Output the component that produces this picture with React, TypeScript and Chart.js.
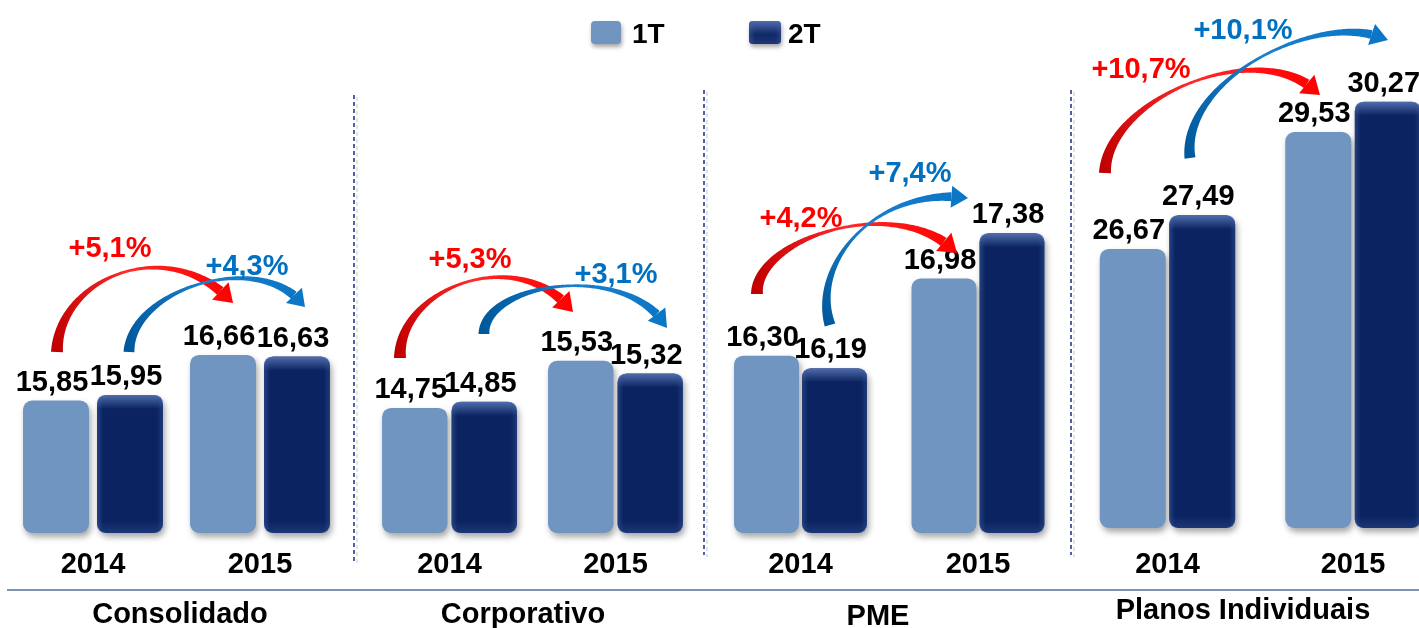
import React, { useEffect, useRef } from 'react';
import { Chart, registerables } from 'chart.js';

Chart.register(...registerables);

// ---------- data ----------
const years = ['2014', '2015'];
const segments = ['Consolidado', 'Corporativo', 'PME', 'Planos Individuais'];
const legendLabels = ['1T', '2T'];
const consolidado1T = [15.85, 16.66];
const consolidado2T = [15.95, 16.63];
const corporativo1T = [14.75, 15.53];
const corporativo2T = [14.85, 15.32];
const pme1T = [16.3, 16.98];
const pme2T = [16.19, 17.38];
const planos1T = [26.67, 29.53];
const planos2T = [27.49, 30.27];
const growth1T = ['+5,1%', '+5,3%', '+4,2%', '+10,7%'];
const growth2T = ['+4,3%', '+3,1%', '+7,4%', '+10,1%'];

const series1T = [consolidado1T, corporativo1T, pme1T, planos1T];
const series2T = [consolidado2T, corporativo2T, pme2T, planos2T];

// ---------- layout / style ----------
const W = 1450;
const H = 628;
const FONT = '"Liberation Sans", Arial, Helvetica, sans-serif';
const LIGHT = '#7195C1';
const DARK = '#0B2461';
const RED_TXT = '#FF0000';
const BLUE_TXT = '#0070C0';

type Pt = [number, number];
interface ArrowSpec { p0: Pt; c1: Pt; c2: Pt; p3: Pt; red: boolean; w0: number; wMid: number; w1: number; headW: number; headL: number; }
interface PanelSpec {
  left: number; right: number; bottom: number; yMin: number; yMax: number; cat: number; bar: number;
  sep: [number, number, number] | null; titleX: number; titleY: number;
  g1: Pt; g2: Pt; arrows: ArrowSpec[];
}

const RA = { red: true, w0: 12, wMid: 2.5, w1: 10, headW: 24, headL: 17 };
const BA = { red: false, w0: 11, wMid: 2.5, w1: 9, headW: 22, headL: 16 };

const panels: PanelSpec[] = [
  {
    left: 9.5, right: 343.5, bottom: 533, yMin: 13.497, yMax: 22.964, cat: 0.886, bar: 0.892,
    sep: [354, 95, 563], titleX: 180, titleY: 623, g1: [110, 247], g2: [247, 265],
    arrows: [
      { p0: [57, 352], c1: [58, 278], c2: [168, 232], p3: [233, 303], ...RA },
      { p0: [129, 352], c1: [131, 288], c2: [262, 248], p3: [305, 307], ...BA },
    ],
  },
  {
    left: 366.5, right: 698.5, bottom: 533, yMin: 12.675, yMax: 21.514, cat: 0.837, bar: 0.942,
    sep: [704, 90, 555], titleX: 523, titleY: 623, g1: [470, 258], g2: [616, 273],
    arrows: [
      { p0: [400, 358], c1: [398, 288], c2: [518, 242], p3: [573, 312], ...RA },
      { p0: [484, 334], c1: [483, 283], c2: [628, 260], p3: [667, 328], ...BA },
    ],
  },
  {
    left: 711.75, right: 1066.75, bottom: 533, yMin: 14.735, yMax: 19.439, cat: 0.766, bar: 0.956,
    sep: [1071, 90, 555], titleX: 878, titleY: 625, g1: [801, 217], g2: [910, 172],
    arrows: [
      { p0: [757, 294], c1: [755, 238], c2: [898, 192], p3: [957, 253], ...RA },
      { p0: [830, 325], c1: [810, 262], c2: [878, 186], p3: [968, 198], ...BA },
    ],
  },
  {
    left: 1074.75, right: 1445.75, bottom: 528, yMin: 19.84, yMax: 32.76, cat: 0.749, bar: 0.95,
    sep: null, titleX: 1243, titleY: 619, g1: [1141, 68], g2: [1243, 29],
    arrows: [
      { p0: [1105, 173], c1: [1106, 98], c2: [1262, 33], p3: [1320, 95], ...RA },
      { p0: [1190, 158], c1: [1180, 80], c2: [1320, 8], p3: [1388, 40], ...BA },
    ],
  },
];

const fmt = (v: number) => v.toFixed(2).replace('.', ',');

function roundRectPath(ctx: CanvasRenderingContext2D, x: number, y: number, w: number, h: number, r: number) {
  const rr = Math.min(r, w / 2, h / 2);
  ctx.beginPath();
  ctx.moveTo(x + rr, y);
  ctx.lineTo(x + w - rr, y);
  ctx.quadraticCurveTo(x + w, y, x + w, y + rr);
  ctx.lineTo(x + w, y + h - rr);
  ctx.quadraticCurveTo(x + w, y + h, x + w - rr, y + h);
  ctx.lineTo(x + rr, y + h);
  ctx.quadraticCurveTo(x, y + h, x, y + h - rr);
  ctx.lineTo(x, y + rr);
  ctx.quadraticCurveTo(x, y, x + rr, y);
  ctx.closePath();
}

function bevel(ctx: CanvasRenderingContext2D, x: number, y: number, w: number, h: number, r: number) {
  ctx.save();
  roundRectPath(ctx, x, y, w, h, r);
  ctx.clip();
  let g = ctx.createLinearGradient(0, y, 0, y + 14);
  g.addColorStop(0, 'rgba(110,140,205,0.7)');
  g.addColorStop(1, 'rgba(110,140,205,0)');
  ctx.fillStyle = g;
  ctx.fillRect(x, y, w, 14);
  g = ctx.createLinearGradient(0, y + h - 12, 0, y + h);
  g.addColorStop(0, 'rgba(60,90,160,0)');
  g.addColorStop(1, 'rgba(60,90,160,0.35)');
  ctx.fillStyle = g;
  ctx.fillRect(x, y + h - 12, w, 12);
  g = ctx.createLinearGradient(x, 0, x + 6, 0);
  g.addColorStop(0, 'rgba(70,100,170,0.45)');
  g.addColorStop(1, 'rgba(70,100,170,0)');
  ctx.fillStyle = g;
  ctx.fillRect(x, y, 6, h);
  g = ctx.createLinearGradient(x + w, 0, x + w - 6, 0);
  g.addColorStop(0, 'rgba(70,100,170,0.35)');
  g.addColorStop(1, 'rgba(70,100,170,0)');
  ctx.fillStyle = g;
  ctx.fillRect(x + w - 6, y, 6, h);
  ctx.restore();
}

function bez(a: ArrowSpec, t: number): Pt {
  const u = 1 - t;
  const x = u * u * u * a.p0[0] + 3 * u * u * t * a.c1[0] + 3 * u * t * t * a.c2[0] + t * t * t * a.p3[0];
  const y = u * u * u * a.p0[1] + 3 * u * u * t * a.c1[1] + 3 * u * t * t * a.c2[1] + t * t * t * a.p3[1];
  return [x, y];
}

function drawArrow(ctx: CanvasRenderingContext2D, a: ArrowSpec) {
  const N = 160;
  const pts: Pt[] = [];
  const len: number[] = [0];
  for (let i = 0; i <= N; i++) {
    pts.push(bez(a, i / N));
    if (i > 0) {
      const dx = pts[i][0] - pts[i - 1][0];
      const dy = pts[i][1] - pts[i - 1][1];
      len.push(len[i - 1] + Math.hypot(dx, dy));
    }
  }
  const total = len[N];
  const shaftLen = total - a.headL;
  const shaft: Pt[] = [];
  const sArr: number[] = [];
  for (let i = 0; i <= N; i++) {
    if (len[i] > shaftLen) break;
    shaft.push(pts[i]);
    sArr.push(len[i] / shaftLen);
  }
  const left: Pt[] = [];
  const right: Pt[] = [];
  for (let i = 0; i < shaft.length; i++) {
    const pa = shaft[Math.max(0, i - 1)];
    const pb = shaft[Math.min(shaft.length - 1, i + 1)];
    let dx = pb[0] - pa[0];
    let dy = pb[1] - pa[1];
    const d = Math.hypot(dx, dy) || 1;
    dx /= d; dy /= d;
    const nx = -dy, ny = dx;
    const s = sArr[i];
    const w = a.wMid
      + (a.w0 - a.wMid) * Math.pow(Math.max(0, 1 - s / 0.55), 1.5)
      + (a.w1 - a.wMid) * Math.pow(Math.max(0, (s - 0.45) / 0.55), 2);
    left.push([shaft[i][0] + nx * w / 2, shaft[i][1] + ny * w / 2]);
    right.push([shaft[i][0] - nx * w / 2, shaft[i][1] - ny * w / 2]);
  }
  const g = ctx.createLinearGradient(a.p0[0], a.p0[1], a.p3[0], a.p3[1]);
  if (a.red) {
    g.addColorStop(0, '#C00000');
    g.addColorStop(0.5, '#FF2A2A');
    g.addColorStop(1, '#FF0000');
  } else {
    g.addColorStop(0, '#00599C');
    g.addColorStop(0.5, '#1A7FCC');
    g.addColorStop(1, '#0A76C6');
  }
  ctx.save();
  ctx.fillStyle = g;
  ctx.beginPath();
  left.forEach((p, i) => (i === 0 ? ctx.moveTo(p[0], p[1]) : ctx.lineTo(p[0], p[1])));
  for (let i = right.length - 1; i >= 0; i--) ctx.lineTo(right[i][0], right[i][1]);
  ctx.closePath();
  ctx.fill();
  const base = shaft[shaft.length - 1];
  let dx = a.p3[0] - base[0];
  let dy = a.p3[1] - base[1];
  const d = Math.hypot(dx, dy) || 1;
  dx /= d; dy /= d;
  const nx = -dy, ny = dx;
  ctx.beginPath();
  ctx.moveTo(base[0] + nx * a.headW / 2, base[1] + ny * a.headW / 2);
  ctx.lineTo(a.p3[0], a.p3[1]);
  ctx.lineTo(base[0] - nx * a.headW / 2, base[1] - ny * a.headW / 2);
  ctx.closePath();
  ctx.fill();
  ctx.restore();
}

function makePlugin(pi: number) {
  const p = panels[pi];
  return {
    id: 'decor' + pi,
    beforeDatasetsDraw(chart: any) {
      const ctx = chart.ctx as CanvasRenderingContext2D;
      ctx.save();
      ctx.shadowColor = 'rgba(0,0,0,0.35)';
      ctx.shadowBlur = 6;
      ctx.shadowOffsetX = 2;
      ctx.shadowOffsetY = 4;
    },
    afterDatasetsDraw(chart: any) {
      const ctx = chart.ctx as CanvasRenderingContext2D;
      ctx.restore();
      const meta2 = chart.getDatasetMeta(1);
      meta2.data.forEach((el: any) => {
        const w = el.width;
        bevel(ctx, el.x - w / 2, el.y, w, el.base - el.y, 9);
      });
      ctx.save();
      ctx.fillStyle = '#000';
      ctx.font = `bold 29px ${FONT}`;
      ctx.textAlign = 'center';
      ctx.textBaseline = 'alphabetic';
      [0, 1].forEach((di) => {
        const meta = chart.getDatasetMeta(di);
        const vals = chart.data.datasets[di].data as number[];
        meta.data.forEach((el: any, i: number) => {
          ctx.fillText(fmt(vals[i]), el.x - 4, el.y - 10);
        });
      });
      const xs = chart.scales.x;
      years.forEach((y, i) => {
        ctx.fillText(y, xs.getPixelForValue(i), 573);
      });
      ctx.restore();
    },
    afterDraw(chart: any) {
      const ctx = chart.ctx as CanvasRenderingContext2D;
      ctx.save();
      p.arrows.forEach((a) => drawArrow(ctx, a));
      ctx.font = `bold 29px ${FONT}`;
      ctx.textAlign = 'center';
      ctx.textBaseline = 'alphabetic';
      ctx.fillStyle = RED_TXT;
      ctx.fillText(growth1T[pi], p.g1[0], p.g1[1] + 10);
      ctx.fillStyle = BLUE_TXT;
      ctx.fillText(growth2T[pi], p.g2[0], p.g2[1] + 10);
      if (p.sep) {
        const [sx, y0, y1] = p.sep;
        ctx.setLineDash([4, 3]);
        ctx.lineWidth = 1.5;
        ctx.strokeStyle = 'rgba(150,150,150,0.35)';
        ctx.beginPath();
        ctx.moveTo(sx + 3, y0 + 2);
        ctx.lineTo(sx + 3, y1 + 2);
        ctx.stroke();
        ctx.strokeStyle = '#1F2A8A';
        ctx.beginPath();
        ctx.moveTo(sx, y0);
        ctx.lineTo(sx, y1);
        ctx.stroke();
        ctx.setLineDash([]);
      }
      if (pi === 0) {
        ctx.strokeStyle = '#8092B2';
        ctx.lineWidth = 2;
        ctx.beginPath();
        ctx.moveTo(7, 590);
        ctx.lineTo(1419, 590);
        ctx.stroke();
      }
      ctx.fillStyle = '#000';
      ctx.font = `bold 29px ${FONT}`;
      ctx.fillText(segments[pi], p.titleX, p.titleY);
      if (pi === 0) {
        const items = [
          { x: 591, w: 30, color: LIGHT, tx: 632, dark: false },
          { x: 749, w: 32, color: DARK, tx: 788, dark: true },
        ];
        items.forEach((it, i) => {
          ctx.save();
          ctx.shadowColor = 'rgba(0,0,0,0.35)';
          ctx.shadowBlur = 4;
          ctx.shadowOffsetX = 1;
          ctx.shadowOffsetY = 3;
          ctx.fillStyle = it.color;
          roundRectPath(ctx, it.x, 21, it.w, 23, 4);
          ctx.fill();
          ctx.restore();
          if (it.dark) bevel(ctx, it.x, 21, it.w, 23, 4);
          ctx.fillStyle = '#000';
          ctx.font = `bold 28px ${FONT}`;
          ctx.textAlign = 'left';
          ctx.fillText(legendLabels[i], it.tx, 43);
        });
      }
      ctx.restore();
    },
  };
}

function buildConfig(pi: number): any {
  const p = panels[pi];
  const common = {
    borderRadius: 9,
    borderSkipped: false,
    categoryPercentage: p.cat,
    barPercentage: p.bar,
    base: p.yMin,
    clip: false,
  };
  return {
    type: 'bar',
    data: {
      labels: years,
      datasets: [
        { label: legendLabels[0], data: series1T[pi], backgroundColor: LIGHT, ...common },
        { label: legendLabels[1], data: series2T[pi], backgroundColor: DARK, ...common },
      ],
    },
    options: {
      responsive: false,
      animation: false,
      devicePixelRatio: 1,
      events: [],
      layout: { padding: { left: p.left, right: W - p.right, top: 0, bottom: H - p.bottom } },
      plugins: { legend: { display: false }, tooltip: { enabled: false } },
      scales: {
        x: { display: false, offset: true },
        y: { display: false, min: p.yMin, max: p.yMax },
      },
    },
    plugins: [makePlugin(pi)],
  };
}

export default function App() {
  const refs = useRef<(HTMLCanvasElement | null)[]>([]);
  useEffect(() => {
    document.body.style.margin = '0';
    document.body.style.overflow = 'hidden';
    const charts = panels.map((_, i) => new Chart(refs.current[i] as HTMLCanvasElement, buildConfig(i)));
    return () => charts.forEach((c) => c.destroy());
  }, []);
  return (
    <div style={{ position: 'relative', width: 1419, height: 628, overflow: 'hidden', background: '#fff' }}>
      {panels.map((_, i) => (
        <canvas
          key={i}
          ref={(el) => { refs.current[i] = el; }}
          width={W}
          height={H}
          style={{ position: 'absolute', left: 0, top: 0, width: W, height: H }}
        />
      ))}
    </div>
  );
}
